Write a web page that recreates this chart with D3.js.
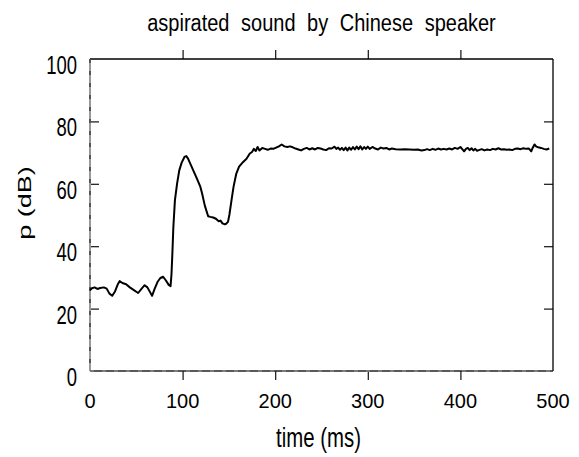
<!DOCTYPE html>
<html>
<head>
<meta charset="utf-8">
<script src="https://cdn.jsdelivr.net/npm/d3@7"></script>
<style>
  body { margin: 0; background: #fff; }
  text { font-family: "Liberation Sans", Arial, sans-serif; fill: #000; }
</style>
</head>
<body>
<div id="container"></div>
<script>
const timeMs = [
  0, 2, 5, 8, 11, 15, 18, 21, 24, 27, 30, 32, 35, 39, 43, 47, 52, 56, 59, 62,
  65, 67, 70, 73, 76, 79, 82, 85, 87, 88, 89, 90, 91.7, 94, 96.4, 99, 102, 104, 106, 109,
  111.5, 115, 119, 121, 124, 127.6, 130, 133, 136, 139, 141, 143, 145.6, 147, 149, 150.5, 152.8, 155, 158, 161,
  165.4, 169, 172.6, 175, 177, 179, 181, 183, 186, 189, 192, 195, 198, 201, 204, 207, 210, 213, 216, 219,
  222, 225, 228, 231, 234, 237, 240, 243, 246, 249, 252, 255, 258, 261, 264, 266, 268, 270, 272, 274,
  276, 278, 280, 282, 284, 286, 288, 290, 292, 294, 296, 298, 300, 302, 305, 308, 311, 314, 317, 320,
  323, 326, 330, 335, 340, 345, 350, 354, 358, 361, 364, 367, 370, 373, 376, 379, 382, 385, 388, 391,
  394, 397, 400, 402, 404, 406, 408, 410, 412, 414, 416, 418, 420, 423, 426, 429, 432, 435, 438, 441,
  444, 447, 450, 453, 456, 459, 462, 465, 468, 471, 474, 476.5, 478, 480, 482, 484, 487, 490, 493, 496
];
const levelDb = [
  25.9, 26.5, 26.8, 26.3, 26.6, 26.8, 26.4, 24.8, 24.1, 25.5, 27.8, 28.8, 28.2, 27.8, 26.8, 26.0, 25.0, 26.5, 27.5, 26.8,
  25.2, 24.1, 26.5, 28.6, 29.8, 30.2, 29.0, 27.6, 27.2, 31, 38, 46, 54.7, 60, 64.3, 66.8, 68.6, 68.9, 68, 66,
  64.3, 62, 59.2, 57, 53, 49.6, 49.4, 49.2, 48.8, 48.0, 48.2, 47.3, 47, 47.2, 47.8, 50, 54.7, 59, 63.3, 65.5,
  67, 68, 69.7, 70.2, 71.2, 70.5, 71.8, 70.7, 71.5, 71.2, 70.9, 71.3, 71.2, 71.6, 72.0, 72.6, 72.0, 71.8, 72.0, 71.7,
  71.3, 71.0, 70.7, 71.2, 71.5, 71.0, 71.4, 71.0, 71.5, 71.3, 71.0, 70.8, 71.4, 71.3, 71.9, 71.2, 71.6, 70.9, 71.5, 70.8,
  71.6, 70.7, 71.6, 70.9, 71.8, 71.0, 71.9, 71.1, 72.0, 71.0, 71.8, 71.2, 71.9, 71.2, 71.8, 71.3, 71.0, 71.6, 71.3, 71.5,
  71.0, 71.3, 71.1, 71.0, 71.1, 71.0, 70.9, 71.0, 70.7, 70.8, 71.1, 70.8, 71.2, 70.9, 71.3, 71.0, 71.2, 71.0, 71.3, 71.0,
  71.5, 71.2, 71.8, 71.1, 70.4, 71.2, 71.5, 70.8, 71.4, 70.7, 71.2, 70.6, 70.8, 71.1, 70.7, 71.0, 70.8, 71.2, 71.0, 71.4,
  71.0, 71.1, 70.9, 71.0, 70.8, 71.2, 71.3, 71.1, 71.4, 71.2, 71.3, 70.4, 71.5, 72.6, 71.9, 71.7, 71.5, 71.2, 71.0, 71.3
];
const xTicks = [0, 100, 200, 300, 400, 500];
const yTicks = [0, 20, 40, 60, 80, 100];

const W = 579, H = 457;
const margin = {top: 59, right: 26, bottom: 86, left: 90},
  width = W - margin.left - margin.right,
  height = H - margin.top - margin.bottom;

const svg = d3.select("#container")
  .append("svg")
  .attr("width", W)
  .attr("height", H);

const g = svg.append("g")
  .attr("transform", `translate(${margin.left},${margin.top})`);

const x = d3.scaleLinear().domain([0, 500]).range([0, width]);
const y = d3.scaleLinear().domain([0, 100]).range([height, 0]);

const data = timeMs.map((t, i) => ({t: t, v: levelDb[i]}));

// inner ticks on all four sides
const inner = xTicks.slice(1, -1), innerY = yTicks.slice(1, -1);
g.append("g").call(d3.axisTop(x).tickValues(inner).tickSize(-9).tickFormat(""))
  .attr("transform", `translate(0,${height})`)
  .call(a => a.select(".domain").remove());
g.append("g").call(d3.axisBottom(x).tickValues(inner).tickSize(-9).tickFormat(""))
  .call(a => a.select(".domain").remove());
g.append("g").call(d3.axisRight(y).tickValues(innerY).tickSize(-9).tickFormat(""))
  .attr("transform", `translate(${width},0)`)
  .call(a => a.select(".domain").remove());
g.append("g").call(d3.axisLeft(y).tickValues(innerY).tickSize(-9).tickFormat(""))
  .call(a => a.select(".domain").remove());
g.selectAll(".tick line").attr("stroke", "#111").attr("stroke-width", 1.2);

// frame
g.append("line").attr("x1", 0).attr("x2", width).attr("y1", 0).attr("y2", 0)
  .attr("stroke", "#000").attr("stroke-width", 1.3);
g.append("line").attr("x1", width).attr("x2", width).attr("y1", 0).attr("y2", height)
  .attr("stroke", "#000").attr("stroke-width", 1.3);
g.append("line").attr("x1", 0).attr("x2", 0).attr("y1", 0).attr("y2", height)
  .attr("stroke", "#999").attr("stroke-width", 2);
g.append("line").attr("x1", 0).attr("x2", 0).attr("y1", 0).attr("y2", height)
  .attr("stroke", "#555").attr("stroke-width", 2).attr("stroke-dasharray", "4,8");
g.append("line").attr("x1", 0).attr("x2", width).attr("y1", height).attr("y2", height)
  .attr("stroke", "#222").attr("stroke-width", 1.6);
g.append("line").attr("x1", 0).attr("x2", width).attr("y1", height).attr("y2", height)
  .attr("stroke", "#888").attr("stroke-width", 1.6).attr("stroke-dasharray", "4,8");

// tick labels
g.selectAll("text.xl").data(xTicks).enter().append("text")
  .attr("class", "xl")
  .attr("text-anchor", "middle")
  .attr("font-size", 20)
  .attr("transform", d => `translate(${x(d)},${height + 37}) scale(1,1.05)`)
  .text(d => d);

g.selectAll("text.yl").data(yTicks).enter().append("text")
  .attr("class", "yl")
  .attr("text-anchor", "end")
  .attr("font-size", 21)
  .attr("transform", d => `translate(-13,${y(d) + 15}) scale(0.88,1.22)`)
  .text(d => d);

// titles
svg.append("text")
  .attr("text-anchor", "middle")
  .attr("font-size", 20)
  .attr("word-spacing", 6)
  .attr("transform", `translate(${margin.left + width / 2},31) scale(1,1.15)`)
  .text("aspirated sound by Chinese speaker");

svg.append("text")
  .attr("text-anchor", "middle")
  .attr("font-size", 21)
  .attr("transform", `translate(${margin.left + width / 2 - 3},447) scale(0.97,1.3)`)
  .text("time (ms)");

svg.append("text")
  .attr("text-anchor", "middle")
  .attr("font-size", 20)
  .attr("transform", `translate(31,${margin.top + 144}) rotate(-90) scale(1.35,0.95)`)
  .text("p (dB)");

// curve
g.append("path")
  .datum(data)
  .attr("fill", "none")
  .attr("stroke", "#000")
  .attr("stroke-width", 2)
  .attr("stroke-linejoin", "round")
  .attr("d", d3.line()
    .x(d => x(d.t))
    .y(d => y(d.v)));
</script>
</body>
</html>
